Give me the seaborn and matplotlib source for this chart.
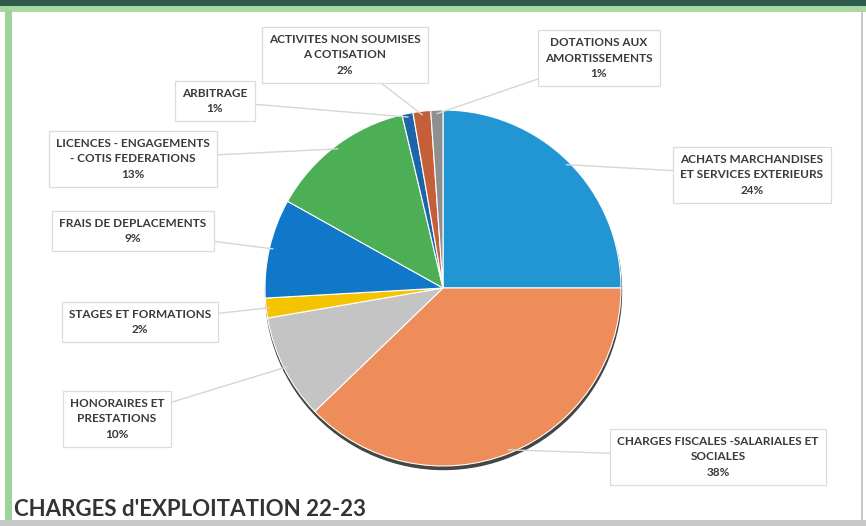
import matplotlib
matplotlib.use("Agg")
import matplotlib.pyplot as plt
from matplotlib.patches import Rectangle, Circle
import numpy as np
import seaborn as sns

# postes de charges (ordre horaire depuis midi)
categories = [
    "ACHATS MARCHANDISES\nET SERVICES EXTERIEURS",
    "CHARGES FISCALES -SALARIALES ET\nSOCIALES",
    "HONORAIRES ET\nPRESTATIONS",
    "STAGES ET FORMATIONS",
    "FRAIS DE DEPLACEMENTS",
    "LICENCES - ENGAGEMENTS\n- COTIS FEDERATIONS",
    "ARBITRAGE",
    "ACTIVITES NON SOUMISES\nA COTISATION",
    "DOTATIONS AUX\nAMORTISSEMENTS",
]
# parts
shares = [25.0, 37.8, 9.5, 1.8, 9.0, 13.2, 1.0, 1.6, 1.1]
# pourcentages affiches
pct_labels = ["24%", "38%", "10%", "2%", "9%", "13%", "1%", "2%", "1%"]

title = "CHARGES d'EXPLOITATION 22-23"

colors = sns.color_palette(["#2196d3", "#ee8c5a", "#c4c4c4", "#f5c400", "#1177c8",
                            "#4daf55", "#1b65a8", "#c55f3a", "#8f8f8f"])

# position des etiquettes (pixels, origine en haut a gauche)
label_pos = [(752, 175), (718, 457), (117, 419), (140, 322), (133, 231),
             (133, 159), (215, 101), (345, 55), (599, 58)]

W, H = 866, 526
def Y(y):
    return H - y

sns.set_theme(style="white")
plt.rcParams["font.family"] = ["Lato", "DejaVu Sans"]

fig = plt.figure(figsize=(W / 100, H / 100), dpi=100)
ax = fig.add_axes([0, 0, 1, 1])

cx, cy, r = 443, Y(288), 178

# ombre sous le camembert
ax.add_patch(Circle((cx + 0.5, cy - 3.5), r, color="#454545", zorder=0))

wedges, _ = ax.pie(shares, colors=colors, startangle=90, counterclock=False,
                   center=(cx, cy), radius=r,
                   wedgeprops=dict(edgecolor="white", linewidth=0.8))

for w, cat, pct, (lx, ly) in zip(wedges, categories, pct_labels, label_pos):
    mid = np.deg2rad((w.theta1 + w.theta2) / 2)
    px, py = cx + r * 0.98 * np.cos(mid), cy + r * 0.98 * np.sin(mid)
    ax.annotate(cat + "\n" + pct, xy=(px, py), xytext=(lx, Y(ly)),
                ha="center", va="center", fontsize=8.5, fontweight="bold",
                color="#3a3a3a", linespacing=1.45, zorder=5,
                bbox=dict(boxstyle="square,pad=0.6", fc="white", ec="#dcdcdc", lw=0.9),
                arrowprops=dict(arrowstyle="-", color="#d6d6d6", lw=1.0,
                                shrinkA=0, shrinkB=0))

ax.text(14, Y(509), title, fontsize=16, fontweight="bold", color="#333333",
        ha="left", va="center")

# cadre
ax.add_patch(Rectangle((0, Y(6)), W, 6, color="#2e5b4b", lw=0, zorder=6))
ax.add_patch(Rectangle((0, Y(12)), W, 6, color="#a9d8a4", lw=0, zorder=6))
ax.add_patch(Rectangle((5, 0), 7, Y(10), color="#9dd49a", lw=0, zorder=6))
ax.add_patch(Rectangle((861, 0), 2, Y(10), color="#c8c8c8", lw=0, zorder=6))
ax.add_patch(Rectangle((0, 0), W, Y(520), color="#c8c8c8", lw=0, zorder=6))

ax.set_xlim(0, W)
ax.set_ylim(0, H)
ax.set_aspect("auto")
ax.axis("off")

fig.savefig("out.png", dpi=100)
